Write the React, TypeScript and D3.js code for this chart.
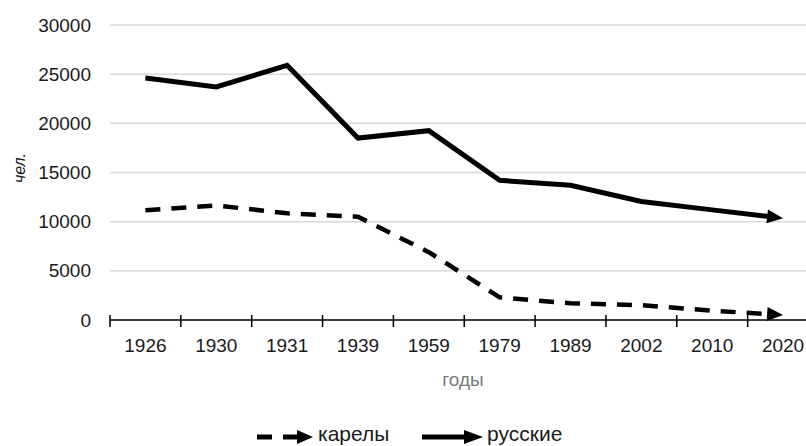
import React from "react";
import * as d3 from "d3";

const years = ["1926", "1930", "1931", "1939", "1959", "1979", "1989", "2002", "2010", "2020"];
const russians = [24600, 23700, 25900, 18500, 19250, 14200, 13700, 12050, 11200, 10350];
const karelians = [11150, 11650, 10850, 10500, 6900, 2300, 1700, 1500, 950, 500];
const yTicks = [0, 5000, 10000, 15000, 20000, 25000, 30000];
const seriesNames = ["карелы", "русские"];

const W = 806;
const H = 446;
const FONT = "'Liberation Sans', Arial, sans-serif";

export default function App() {
  const x = d3.scaleBand<string>().domain(years).range([110, 818.5]).padding(0);
  const y = d3.scaleLinear().domain([0, 30000]).range([320, 25]);
  const cx = (c: string) => (x(c) as number) + x.bandwidth() / 2;

  const arrowGeom = (vals: number[], len = 16, half = 7) => {
    const n = vals.length;
    const x1 = cx(years[n - 1]);
    const y1 = y(vals[n - 1]);
    const x0 = cx(years[n - 2]);
    const y0 = y(vals[n - 2]);
    const a = Math.atan2(y1 - y0, x1 - x0);
    const bx = x1 - len * Math.cos(a);
    const by = y1 - len * Math.sin(a);
    const px = -Math.sin(a) * half;
    const py = Math.cos(a) * half;
    return {
      head: `M${x1},${y1}L${bx + px},${by + py}L${bx - px},${by - py}Z`,
      base: [bx + 2 * Math.cos(a), by + 2 * Math.sin(a)],
    };
  };

  const seriesPath = (vals: number[]) => {
    const g = arrowGeom(vals);
    const pts: [number, number][] = vals.map((v, i) => [cx(years[i]), y(v)]);
    pts[pts.length - 1] = g.base as [number, number];
    return d3.line()(pts) as string;
  };

  const legendY = 437;
  const legendText = 441;

  return (
    <svg
      width={W}
      height={H}
      style={{ position: "absolute", left: 0, top: 0, background: "#fff" }}
      fontFamily={FONT}
    >
      <rect width={W} height={H} fill="#fff" />
      {yTicks.filter((t) => t > 0).map((t) => (
        <line key={t} x1={110} x2={818} y1={y(t)} y2={y(t)} stroke="#d9d9d9" strokeWidth={1.5} />
      ))}
      {yTicks.map((t) => (
        <text key={"yl" + t} x={91} y={y(t)} dy="0.35em" textAnchor="end" fontSize={19} fill="#1a1a1a">
          {t}
        </text>
      ))}
      <line x1={110} x2={818} y1={y(0)} y2={y(0)} stroke="#000" strokeWidth={1.5} />
      {years.map((c) => (
        <line
          key={"t" + c}
          x1={x(c) as number}
          x2={x(c) as number}
          y1={y(0) - 5}
          y2={y(0) + 7}
          stroke="#000"
          strokeWidth={1.5}
        />
      ))}
      {years.map((c) => (
        <text key={"xl" + c} x={cx(c)} y={352} textAnchor="middle" fontSize={19} fill="#1a1a1a">
          {c}
        </text>
      ))}
      <text x={463} y={386} textAnchor="middle" fontSize={19} fill="#7a7a7a">
        годы
      </text>
      <text
        transform="translate(25,168) rotate(-90)"
        textAnchor="middle"
        fontSize={16}
        fontStyle="italic"
        fill="#1a1a1a"
      >
        чел.
      </text>
      <path
        d={seriesPath(karelians)}
        fill="none"
        stroke="#000"
        strokeWidth={4.5}
        strokeDasharray="15 11"
        strokeLinejoin="round"
      />
      <path d={arrowGeom(karelians).head} fill="#000" />
      <path d={seriesPath(russians)} fill="none" stroke="#000" strokeWidth={5} strokeLinejoin="miter" />
      <path d={arrowGeom(russians).head} fill="#000" />
      <g>
        <line x1={257} x2={272} y1={legendY} y2={legendY} stroke="#000" strokeWidth={5} />
        <line x1={283} x2={299} y1={legendY} y2={legendY} stroke="#000" strokeWidth={5} />
        <path d={`M313,${legendY}L297,${legendY - 7}L297,${legendY + 7}Z`} fill="#000" />
        <text x={318} y={legendText} fontSize={21} fill="#1a1a1a">
          {seriesNames[0]}
        </text>
        <line x1={422} x2={466} y1={legendY} y2={legendY} stroke="#000" strokeWidth={5} />
        <path d={`M483,${legendY}L464,${legendY - 7}L464,${legendY + 7}Z`} fill="#000" />
        <text x={487} y={legendText} fontSize={21} fill="#1a1a1a">
          {seriesNames[1]}
        </text>
      </g>
    </svg>
  );
}
